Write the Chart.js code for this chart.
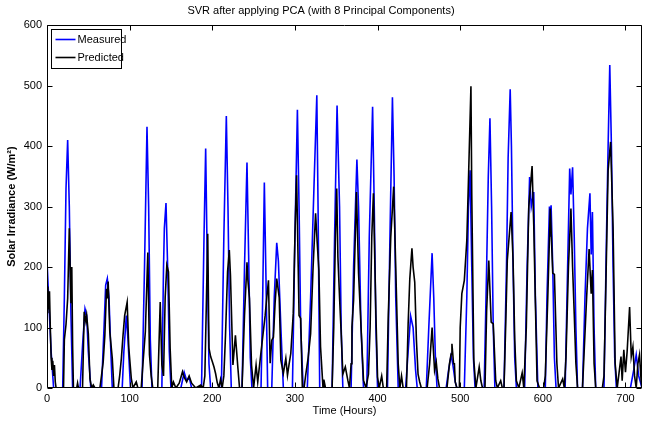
<!DOCTYPE html>
<html>
<head>
<meta charset="utf-8">
<script src="https://cdn.jsdelivr.net/npm/chart.js@4.4.1/dist/chart.umd.min.js"></script>
<style>
  body { margin: 0; background: #fff; }
  #wrap { width: 652px; height: 424px; }
</style>
</head>
<body>
<div id="wrap"><canvas id="svrChart" width="652" height="424"></canvas></div>
<script>
// ==============================
// DATA (one row per day)
// ==============================
const measuredHours = [
  0, 2, 5, 8,
  19, 21, 23, 25, 27, 29, 31,
  40, 43, 46, 48, 50, 53,
  66, 69, 71, 73, 75, 77, 79,
  91, 93, 96, 98, 101,
  115, 118, 121, 123, 125, 127,
  139, 141, 142, 144, 146, 148, 150,
  162, 166, 169, 172, 175,
  187, 190, 192, 194, 196, 198,
  211, 214, 217, 219, 221, 223,
  236, 239, 242, 244, 246, 248,
  259, 261, 263, 265, 267,
  272, 275, 278, 280, 283, 286,
  297, 300, 303, 305, 307, 310,
  315, 319, 323, 326.5, 328, 330,
  345, 348, 351, 354, 356, 358,
  368, 371, 375, 377, 380, 383,
  387, 390, 394, 396, 398, 400,
  412, 415, 418, 420, 422, 425,
  434, 437, 440, 443, 446, 448,
  459, 462, 466, 468, 470, 472,
  483, 486, 489, 491, 494, 496,
  505, 508, 510, 512, 514, 516, 518,
  529, 532, 534, 536, 538, 540, 542,
  553, 556, 558, 560.5, 562, 564, 566, 568,
  578, 581, 584, 586, 589, 591, 594,
  603, 605, 608, 609, 610, 612, 614, 616,
  627, 630, 632.5, 634, 636, 638, 640, 642,
  648, 651, 654, 657, 658.5, 660, 662, 664,
  674, 677, 679, 681, 683, 685, 687, 689,
  706, 710, 713, 716, 720
];
const measuredValues = [
  210, 150, 60, 0,
  0, 150, 330, 410, 300, 120, 0,
  0, 70, 131, 120, 60, 0,
  0, 100, 170, 181, 150, 70, 0,
  0, 60, 120, 80, 0,
  0, 200, 432, 300, 80, 0,
  0, 200, 264, 306, 200, 60, 0,
  0, 26, 12, 18, 0,
  0, 250, 396, 200, 40, 0,
  0, 250, 450, 300, 100, 0,
  0, 200, 373, 220, 50, 0,
  0, 150, 340, 180, 0,
  0, 150, 240, 210, 100, 0,
  0, 250, 460, 300, 100, 0,
  0, 150, 330, 484, 300, 0,
  0, 250, 467, 300, 100, 0,
  0, 200, 378, 300, 100, 0,
  0, 250, 465, 300, 100, 0,
  0, 250, 481, 350, 150, 0,
  0, 60, 119, 100, 30, 0,
  0, 100, 223, 150, 50, 0,
  0, 30, 54, 40, 10, 0,
  0, 150, 300, 360, 200, 50, 0,
  0, 200, 350, 446, 300, 100, 0,
  0, 200, 380, 494, 400, 200, 50, 0,
  0, 200, 349, 300, 324, 150, 0,
  0, 150, 300, 250, 302, 200, 50, 0,
  0, 200, 363, 320, 365, 250, 100, 0,
  0, 150, 264, 322, 221, 291, 100, 0,
  0, 250, 400, 534, 400, 200, 50, 0,
  0, 30, 55, 20, 0
];

const predictedHours = [
  0, 1, 2, 3, 4, 5, 6, 7, 8, 9, 10, 11,
  20, 21, 23, 25, 27, 28, 29, 30, 31, 32,
  36, 37, 38,
  43, 45, 47, 48, 50, 52, 54, 56, 58,
  64, 66, 68, 70, 72, 73, 74, 76, 79, 81,
  86, 88, 90, 92, 94, 97, 99, 102, 104, 108, 110,
  114, 116, 119, 122, 124, 126, 128,
  134, 137, 139, 141, 143, 145, 147, 149, 151,
  153, 156, 160, 164, 166, 169, 172, 175, 180, 186, 189,
  191, 193, 194.5, 196, 198, 200, 202, 204, 206, 208, 210, 212,
  214, 216, 218.5, 220.6, 222, 225, 228, 231, 233,
  236, 239, 242, 243, 245, 247.5, 250, 253, 255, 257, 259, 261, 264, 266, 268,
  270, 272, 274, 276, 278, 281, 283, 286, 289, 291, 293, 295, 298, 300, 302,
  304, 305, 307, 309,
  311, 313, 316, 319, 322, 325, 327, 329, 331, 334, 335, 337,
  345, 347, 349, 350.6, 352, 354, 356, 358, 361, 364, 366,
  368, 369, 371, 374.5, 377, 380, 383, 386,
  389, 391, 393, 395, 398, 400, 402, 405, 407,
  411, 413, 416, 419.5, 422, 425, 427, 429, 431,
  435, 437, 439, 441.6, 443, 445, 447, 449, 451, 453,
  460, 463, 466, 469, 471, 473, 475,
  484, 487, 489, 490, 492, 493, 494, 496,
  499, 500, 502, 505, 508, 510, 513, 514, 516.5, 519, 523, 525, 527,
  530, 532, 534.6, 537.5, 540, 543, 545, 549, 551,
  553, 555, 557, 561.6, 564, 566, 568, 571, 575, 577,
  580, 583, 587, 589, 591, 593, 596,
  601, 603, 606, 609, 612, 614, 617, 619, 624, 626,
  628, 631, 634, 636, 638, 640, 642,
  648, 650, 653, 656, 658.5, 660, 662, 664,
  672, 674, 676, 679, 682, 685, 687.5, 690, 694.6, 696, 698, 700,
  702, 705, 707, 709, 711, 713, 715, 717, 719, 720
];
const predictedValues = [
  125, 168, 130, 160, 100, 50, 30, 45, 20, 38, 10, 0,
  0, 80, 105, 148, 264, 200, 140, 200, 70, 0,
  0, 8, 0,
  0, 126, 110, 120, 90, 15, 0, 5, 0,
  0, 21, 43, 87, 164, 148, 176, 93, 49, 0,
  0, 21, 49, 87, 120, 142, 66, 16, 0, 10, 0,
  0, 38, 93, 224, 55, 21, 0,
  0, 142, 38, 20, 150, 203, 192, 66, 0,
  10, 0, 8, 27, 18, 10, 20, 8, 0, 5, 0,
  20, 150, 255, 66, 52, 44, 35, 24, 9, 0, 14, 0,
  20, 87, 192, 228, 186, 38, 87, 33, 0,
  0, 120, 208, 180, 148, 38, 0, 38, 10, 35, 60, 84, 120, 150, 178,
  41, 79, 84, 140, 181, 150, 46, 24, 49, 21, 40, 57, 123, 250, 352,
  200, 120, 115, 0,
  0, 21, 50, 90, 200, 289, 240, 195, 68, 0, 14, 0,
  0, 100, 250, 330, 217, 150, 90, 23, 35, 13, 0,
  40, 101, 145, 324, 190, 101, 13, 0,
  23, 100, 250, 322, 121, 18, 0, 20, 0,
  0, 121, 250, 333, 200, 40, 0, 20, 0,
  0, 106, 180, 231, 200, 175, 80, 23, 10, 0,
  0, 40, 100, 29, 43, 15, 0,
  0, 40, 56, 73, 40, 40, 10, 0,
  0, 100, 156, 178, 244, 344, 499, 320, 46, 0, 35, 12, 0,
  0, 128, 211, 109, 106, 12, 0, 12, 0,
  0, 100, 211, 291, 211, 80, 12, 0, 25, 0,
  100, 300, 367, 270, 140, 12, 0,
  0, 20, 150, 297, 190, 188, 41, 0, 15, 0,
  50, 200, 297, 200, 123, 41, 0,
  0, 60, 150, 230, 156, 195, 41, 0,
  0, 20, 150, 360, 407, 266, 41, 0, 52, 12, 63, 26,
  60, 134, 52, 68, 20, 0, 40, 55, 10, 0
];

const xTickValues = [0, 100, 200, 300, 400, 500, 600, 700];
const yTickValues = [0, 100, 200, 300, 400, 500, 600];

const seriesNames = ['Measured', 'Predicted'];
const seriesColors = ['#0000ff', '#000000'];

// ==============================
// HELPERS
// ==============================
const FONT = "'Liberation Sans', Arial, sans-serif";

function toPoints(hours, values) {
    return hours.map((h, i) => ({ x: h, y: values[i] }));
}

// MATLAB style box, inward ticks and legend inside the plot
const matlabAxes = {
    id: 'matlabAxes',
    afterDatasetsDraw(chart) {
        const { ctx, chartArea: a, scales } = chart;
        const L = Math.round(a.left) + 0.5, R = Math.round(a.right) - 0.5;
        const T = Math.round(a.top) + 0.5, B = Math.round(a.bottom) - 0.5;
        const tick = 5;
        ctx.save();
        ctx.strokeStyle = '#000';
        ctx.lineWidth = 1;
        ctx.beginPath();
        ctx.rect(L, T, R - L, B - T);
        xTickValues.forEach(v => {
            const px = Math.round(scales.x.getPixelForValue(v)) + 0.5;
            ctx.moveTo(px, B); ctx.lineTo(px, B - tick);
            ctx.moveTo(px, T); ctx.lineTo(px, T + tick);
        });
        yTickValues.forEach(v => {
            const py = Math.round(scales.y.getPixelForValue(v)) + 0.5;
            ctx.moveTo(L, py); ctx.lineTo(L + tick, py);
            ctx.moveTo(R, py); ctx.lineTo(R - tick, py);
        });
        ctx.stroke();

        // legend box
        const bx = 51.5, by = 29.5, bw = 70, bh = 39;
        ctx.fillStyle = '#fff';
        ctx.fillRect(bx, by, bw, bh);
        ctx.strokeRect(bx, by, bw, bh);
        ctx.font = '11px ' + FONT;
        ctx.textBaseline = 'middle';
        seriesNames.forEach((name, i) => {
            const ly = by + 10 + i * 18;
            ctx.strokeStyle = seriesColors[i];
            ctx.lineWidth = 1.6;
            ctx.beginPath();
            ctx.moveTo(bx + 4, ly);
            ctx.lineTo(bx + 24, ly);
            ctx.stroke();
            ctx.fillStyle = '#000';
            ctx.fillText(name, bx + 26, ly);
        });
        ctx.restore();
    }
};

// ==============================
// CHART
// ==============================
const ctx = document.getElementById('svrChart').getContext('2d');

new Chart(ctx, {
    type: 'line',
    data: {
        datasets: [
            {
                label: seriesNames[0],
                data: toPoints(measuredHours, measuredValues),
                borderColor: seriesColors[0],
                borderWidth: 1.6,
                order: 1
            },
            {
                label: seriesNames[1],
                data: toPoints(predictedHours, predictedValues),
                borderColor: seriesColors[1],
                borderWidth: 1.6,
                order: 0
            }
        ]
    },
    options: {
        responsive: false,
        animation: false,
        elements: {
            point: { radius: 0 },
            line: { tension: 0, fill: false }
        },
        layout: { padding: { left: 0, right: 10, top: 0, bottom: 0 } },
        plugins: {
            legend: { display: false },
            tooltip: { enabled: false },
            title: {
                display: true,
                text: 'SVR after applying PCA (with 8 Principal Components)',
                color: '#000',
                font: { family: FONT, size: 11, weight: 'normal' },
                padding: { top: 4, bottom: 8 }
            }
        },
        scales: {
            x: {
                type: 'linear',
                min: 0,
                max: 720,
                afterBuildTicks: s => { s.ticks = xTickValues.map(v => ({ value: v })); },
                afterFit: s => { s.height = 36; },
                grid: { display: false, drawTicks: false },
                border: { display: false },
                ticks: {
                    color: '#000',
                    padding: 4,
                    maxRotation: 0,
                    font: { family: FONT, size: 11 }
                },
                title: {
                    display: true,
                    text: 'Time (Hours)',
                    color: '#000',
                    font: { family: FONT, size: 11 },
                    padding: { top: 2, bottom: 6 }
                }
            },
            y: {
                type: 'linear',
                min: 0,
                max: 600,
                afterBuildTicks: s => { s.ticks = yTickValues.map(v => ({ value: v })); },
                afterFit: s => { s.width = 47; },
                grid: { display: false, drawTicks: false },
                border: { display: false },
                ticks: {
                    color: '#000',
                    padding: 5,
                    font: { family: FONT, size: 11 }
                },
                title: {
                    display: true,
                    text: 'Solar Irradiance (W/m²)',
                    color: '#000',
                    font: { family: FONT, size: 11, weight: 'bold' },
                    padding: { top: 5, bottom: 0 }
                }
            }
        }
    },
    plugins: [matlabAxes]
});
</script>
</body>
</html>
